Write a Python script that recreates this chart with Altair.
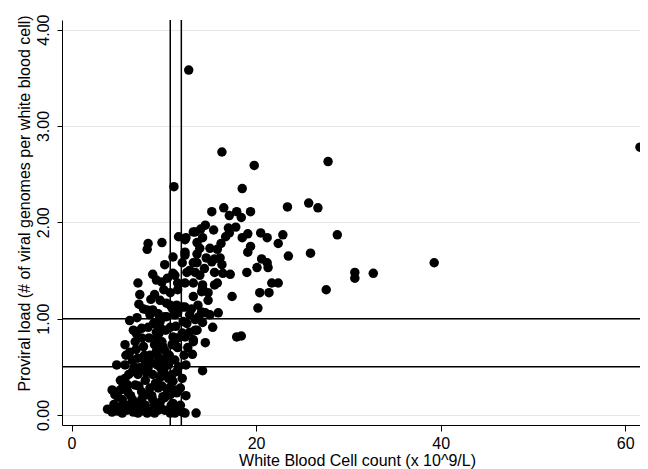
import altair as alt
import pandas as pd

# White blood cell count (x 10^9/L)
wbc = [
    12.7, 61.6, 39.3, 11.1, 16.3, 19.8, 27.8, 18.5, 15.2, 16.5,
    17.1, 17.9, 18.4, 19.4, 23.4, 25.7, 26.7, 14.0, 13.2, 17.0,
    17.8, 17.1, 19.1, 18.5, 20.5, 21.2, 22.9, 22.4, 28.8, 12.3,
    13.6, 14.2, 15.8, 19.4, 19.1, 13.6, 13.9, 12.3, 16.1, 16.3,
    13.2, 20.6, 21.2, 20.1, 21.3, 23.5, 25.9, 15.5, 16.4, 17.2,
    19.0, 12.5, 13.4, 15.8, 21.7, 22.4, 12.3, 14.2, 20.4, 21.4,
    27.6, 30.7, 30.7, 32.7, 17.4, 20.2, 17.9, 18.4, 14.2, 14.5,
    13.1, 13.2, 13.4, 15.3, 14.5, 15.0, 15.9, 14.2, 13.2, 15.5,
    12.3, 11.5, 12.0, 11.5, 11.5, 11.2, 12.4, 11.8, 12.3, 13.5,
    11.2, 8.3, 8.2, 9.8, 11.6, 12.4, 11.0, 12.3, 13.6, 8.8,
    7.2, 11.0, 11.5, 11.2, 13.2, 14.2, 10.7, 11.5, 14.1, 10.7,
    12.0, 14.1, 10.3, 11.2, 13.4, 9.6, 10.7, 12.8, 13.6, 11.0,
    12.3, 13.2, 9.3, 9.9, 11.4, 10.3, 9.6, 10.5, 10.9, 9.6,
    10.7, 11.4, 9.9, 11.0, 10.1, 11.2, 7.3, 6.3, 4.9, 4.4,
    3.9, 8.2, 8.8, 7.6, 8.3, 9.6, 10.1, 10.9, 11.4, 10.3,
    7.6, 6.9, 7.8, 6.3, 9.0, 9.8, 10.1, 10.9, 7.2, 8.0,
    8.3, 9.4, 9.3, 6.6, 7.2, 5.8, 6.9, 8.0, 8.8, 9.8,
    10.5, 6.1, 7.6, 8.5, 9.4, 5.0, 5.5, 6.6, 7.6, 8.8,
    10.1, 4.4, 5.0, 6.0, 6.7, 7.6, 8.5, 9.4, 12.0, 8.0,
    6.9, 5.8, 9.0, 9.0, 9.6, 8.5, 7.1, 9.2, 8.5, 7.4,
    6.1, 5.3, 8.2, 10.7, 9.6, 6.1, 4.6, 10.7, 9.0, 7.2,
    5.5, 6.6, 5.8, 5.3, 4.7, 6.7, 5.8, 9.8, 10.1, 7.4,
    9.9, 11.2, 11.4, 12.0, 12.4, 12.6, 12.1, 12.8, 13.7, 14.8,
    14.8, 15.2, 14.6, 15.0, 14.5, 13.4,
    5.2, 5.6, 6.2, 6.4, 6.8, 7.0, 7.3, 7.5, 7.9, 8.1,
    8.4, 8.6, 8.7, 8.9, 9.1, 9.2, 9.5, 9.7, 9.8, 10.0,
    10.2, 10.4, 10.6, 10.8, 11.0, 11.3, 11.6, 11.8, 12.2, 12.5,
    13.0, 13.8, 7.8, 8.6, 9.4, 10.0, 10.4, 9.2, 6.5, 5.9,
    7.0, 8.2, 12.8, 13.9, 12.0, 14.4, 15.5, 16.7, 15.4, 16.2,
]

# Proviral load (# of viral genomes per white blood cell)
pvl = [
    3.58, 2.78, 1.58, 2.37, 2.73, 2.59, 2.63, 2.35, 2.11, 2.15,
    2.07, 2.11, 2.05, 2.11, 2.16, 2.20, 2.15, 1.93, 1.90, 1.94,
    1.95, 1.89, 1.88, 1.84, 1.89, 1.84, 1.87, 1.78, 1.87, 1.82,
    1.79, 1.84, 1.72, 1.75, 1.69, 1.67, 1.73, 1.69, 1.63, 1.56,
    1.58, 1.62, 1.58, 1.53, 1.53, 1.65, 1.68, 1.48, 1.47, 1.46,
    1.48, 1.48, 1.48, 1.37, 1.37, 1.37, 1.37, 1.32, 1.27, 1.27,
    1.30, 1.48, 1.42, 1.47, 1.23, 1.11, 0.81, 0.82, 0.46, 0.75,
    0.63, 0.76, 0.88, 0.91, 1.06, 1.04, 1.06, 0.96, 1.23, 1.35,
    1.12, 1.06, 0.85, 0.80, 0.70, 0.26, 0.20, 0.10, 0.02, 0.02,
    0.08, 1.78, 1.72, 1.79, 1.85, 1.84, 1.64, 1.66, 1.58, 1.46,
    1.37, 1.47, 1.37, 1.45, 1.37, 1.35, 1.27, 1.30, 1.28, 1.14,
    1.12, 1.07, 1.02, 1.04, 0.99, 0.91, 0.91, 0.86, 0.88, 0.81,
    0.81, 0.78, 0.80, 0.71, 0.71, 0.60, 0.50, 0.52, 0.42, 0.39,
    0.29, 0.23, 0.19, 0.12, 0.05, 0.02, 1.15, 0.98, 0.52, 0.26,
    0.06, 1.09, 1.09, 0.90, 0.91, 0.97, 1.02, 1.11, 1.14, 1.16,
    0.80, 0.76, 0.71, 0.65, 0.73, 0.76, 0.67, 0.73, 0.59, 0.54,
    0.49, 0.60, 0.52, 0.45, 0.42, 0.38, 0.31, 0.36, 0.42, 0.44,
    0.38, 0.24, 0.24, 0.28, 0.28, 0.19, 0.16, 0.16, 0.16, 0.16,
    0.18, 0.03, 0.04, 0.05, 0.03, 0.04, 0.04, 0.05, 0.03, 0.10,
    0.10, 0.10, 0.10, 1.25, 1.19, 1.04, 1.01, 0.86, 0.62, 0.49,
    0.31, 0.26, 0.21, 0.21, 0.13, 0.10, 0.11, 0.02, 0.02, 0.02,
    0.02, 0.57, 0.52, 0.36, 0.21, 0.88, 0.73, 1.38, 1.56, 1.25,
    0.57, 0.57, 0.45, 0.38, 0.52, 0.70, 0.97, 1.04, 1.14, 1.19,
    1.27, 1.59, 1.63, 1.73, 1.97, 1.90,
    0.08, 0.30, 0.42, 0.20, 0.50, 0.68, 0.30, 0.12, 0.62, 0.44,
    0.80, 0.55, 0.20, 0.95, 0.33, 0.66, 0.85, 0.07, 0.30, 0.45,
    0.88, 0.25, 0.62, 0.10, 0.35, 0.92, 0.50, 0.28, 0.62, 0.95,
    1.10, 1.02, 1.10, 1.20, 1.05, 1.30, 1.42, 1.40, 0.05, 0.62,
    0.85, 0.02, 1.50, 1.45, 1.58, 1.52, 1.62, 1.85, 1.92, 1.78,
]

ref_pvl = [0.5, 1.0]
ref_wbc = [10.7, 11.9]
x_ticks = [0, 20, 40, 60]
y_ticks = [0, 1, 2, 3, 4]

FONT = "Liberation Sans"

df = pd.DataFrame({"wbc": wbc, "pvl": pvl})
df_h = pd.DataFrame({"pvl": ref_pvl})
df_v = pd.DataFrame({"wbc": ref_wbc})

xs = alt.Scale(domain=[-1.03, 61.6], nice=False, zero=False)
ys = alt.Scale(domain=[-0.104, 4.1], nice=False, zero=False)

x_axis = alt.Axis(
    values=x_ticks, title="White Blood Cell count (x 10^9/L)", grid=False,
    labelFontSize=16, titleFontSize=16, titleFontWeight="normal",
    tickSize=6, labelPadding=4, titleX=295, titleY=40,
    titleAlign="center", titleBaseline="alphabetic",
    domainColor="black", tickColor="black", labelColor="black", titleColor="black",
    labelFont=FONT, titleFont=FONT,
)
y_axis = alt.Axis(
    values=y_ticks, format=".2f", title="Proviral load (# of viral genomes per white blood cell)",
    grid=True, gridColor="#e6e6e6", gridWidth=1,
    labelFontSize=16, titleFontSize=16, titleFontWeight="normal",
    labelAngle=270, labelAlign="center", labelBaseline="alphabetic",
    tickSize=5, labelPadding=9,
    titleAngle=270, titleAlign="center", titleBaseline="alphabetic",
    titleX=-33, titleY=183,
    domainColor="black", tickColor="black", labelColor="black", titleColor="black",
    labelFont=FONT, titleFont=FONT,
)

points = alt.Chart(df).mark_circle(size=90, color="black", opacity=1, clip=False).encode(
    x=alt.X("wbc:Q", scale=xs, axis=x_axis),
    y=alt.Y("pvl:Q", scale=ys, axis=y_axis),
)

hlines = alt.Chart(df_h).mark_rule(color="black", strokeWidth=1.5).encode(
    y=alt.Y("pvl:Q", scale=ys),
)
vlines = alt.Chart(df_v).mark_rule(color="black", strokeWidth=1.5).encode(
    x=alt.X("wbc:Q", scale=xs),
)

chart = alt.layer(hlines, vlines, points).properties(
    width=578, height=405,
    padding={"left": 54, "top": 12, "right": 0, "bottom": 44},
    autosize=alt.AutoSizeParams(type="none"),
    background="white",
).configure_view(stroke=None)

chart.save("out.html", embed_options={"renderer": "svg", "actions": False})
